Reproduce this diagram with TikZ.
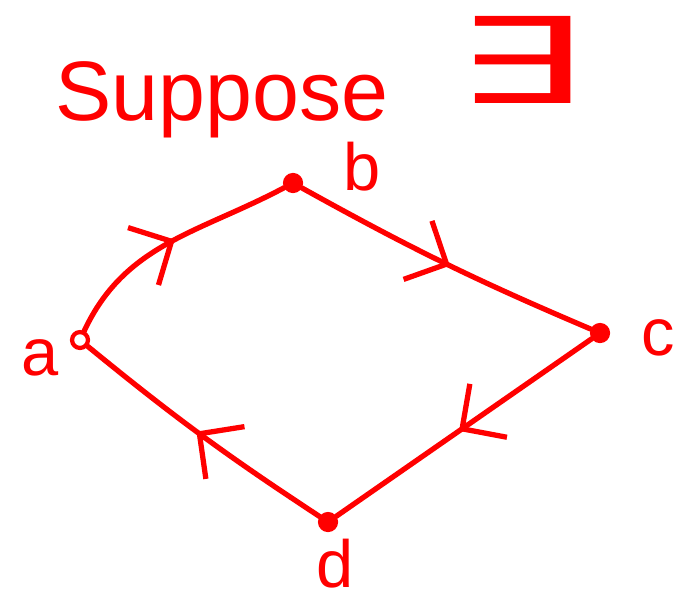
\documentclass[tikz,border=0pt]{standalone}
\usepackage{fontspec}
\setmainfont{Liberation Sans}
\newfontfamily\symfont{DejaVu Sans}
\usetikzlibrary{arrows.meta,decorations.markings}
\begin{document}
\begin{tikzpicture}[every node/.style={text=red,font=\fontsize{19}{22}\selectfont},
  vtx/.style={circle,draw=red,fill=red,line width=1.2pt,inner sep=1.6pt},
  edge/.style={draw=red,line width=1.5pt,line cap=round,postaction={decorate},
    decoration={markings,mark=at position 0.52 with {\arrow{Straight Barb[length=3.2mm,width=6.5mm,line width=1.5pt]}}}}]
\useasboundingbox (0,0) rectangle (6.79,6.00);
% title
\node[font=\fontsize{24}{28}\selectfont] (title) at (2.22,5.00) {Suppose};
\node[font=\symfont\fontsize{34}{40}\selectfont,xscale=1.7] (exists) at (5.20,5.40) {∃};
% vertices
\node[vtx,fill=none] (a) at (0.80,2.60) {};
\node[vtx] (b) at (2.93,4.17) {};
\node[vtx] (c) at (6.00,2.67) {};
\node[vtx] (d) at (3.28,0.78) {};
% labels
\node (la) at (0.40,2.42) {a};
\node (lb) at (3.62,4.33) {b};
\node (lc) at (6.58,2.62) {c};
\node (ld) at (3.35,0.36) {d};
% cycle
\draw[edge] (a) to[out=65,in=208] (b);
\draw[edge] (b) to[bend right=3] (c);
\draw[edge] (c) -- (d);
\draw[edge] (d) to[bend left=3] (a);
\end{tikzpicture}
\end{document}
